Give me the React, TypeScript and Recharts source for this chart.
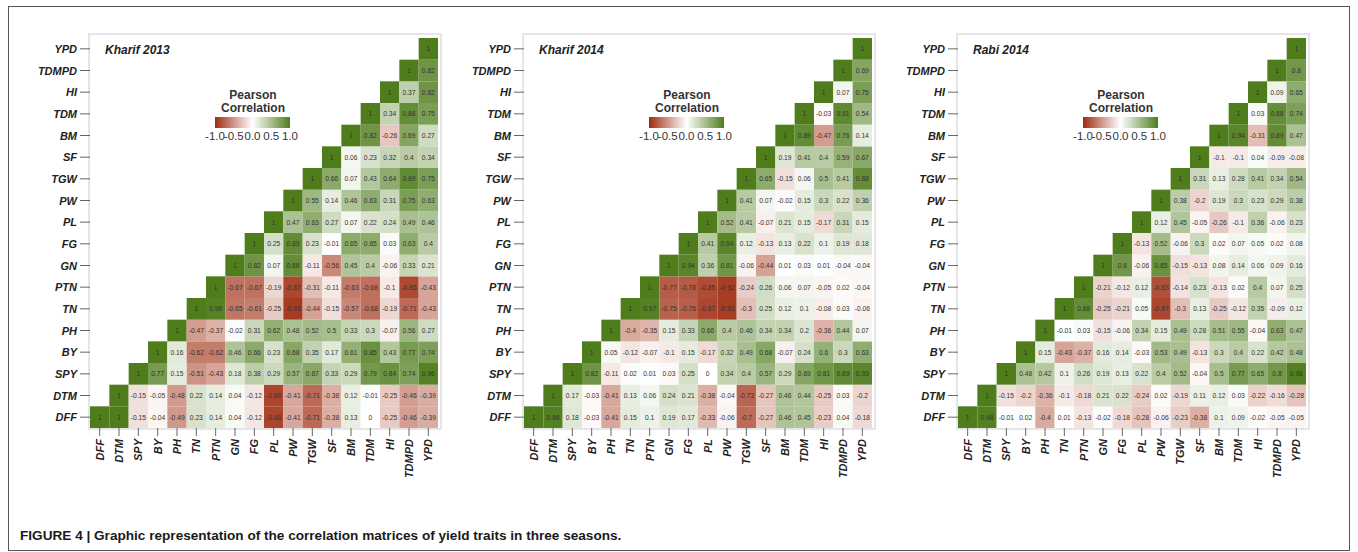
import React from 'react';
import { ScatterChart, Scatter, XAxis, YAxis } from 'recharts';

const traits = ['DFF', 'DTM', 'SPY', 'BY', 'PH', 'TN', 'PTN', 'GN', 'FG', 'PL', 'PW', 'TGW', 'SF', 'BM', 'TDM', 'HI', 'TDMPD', 'YPD'];
const panelTitles = ['Kharif 2013', 'Kharif 2014', 'Rabi 2014'];
const legendTicks = [-1.0, -0.5, 0.0, 0.5, 1.0];

// each row starts at its diagonal cell; row 0 is DFF (bottom), row 17 is YPD (top)
const kharif2013 = [
  [1, 1, -0.15, -0.04, -0.49, 0.23, 0.14, 0.04, -0.12, -0.88, -0.41, -0.71, -0.38, 0.13, 0, -0.25, -0.46, -0.39],
  [1, -0.15, -0.05, -0.48, 0.22, 0.14, 0.04, -0.12, -0.88, -0.41, -0.71, -0.38, 0.12, -0.01, -0.25, -0.46, -0.39],
  [1, 0.77, 0.15, -0.51, -0.43, 0.18, 0.38, 0.29, 0.57, 0.67, 0.33, 0.29, 0.79, 0.84, 0.74, 0.96],
  [1, 0.16, -0.62, -0.62, 0.46, 0.66, 0.23, 0.68, 0.35, 0.17, 0.61, 0.85, 0.43, 0.77, 0.74],
  [1, -0.47, -0.37, -0.02, 0.31, 0.62, 0.48, 0.52, 0.5, 0.33, 0.3, -0.07, 0.56, 0.27],
  [1, 0.96, -0.65, -0.61, -0.25, -0.93, -0.44, -0.15, -0.57, -0.68, -0.19, -0.71, -0.43],
  [1, -0.67, -0.67, -0.19, -0.87, -0.31, -0.11, -0.63, -0.68, -0.1, -0.86, -0.43],
  [1, 0.82, 0.07, 0.88, -0.11, -0.56, 0.45, 0.4, -0.06, 0.33, 0.21],
  [1, 0.25, 0.89, 0.23, -0.01, 0.65, 0.65, 0.03, 0.63, 0.4],
  [1, 0.47, 0.63, 0.27, 0.07, 0.22, 0.24, 0.49, 0.46],
  [1, 0.55, 0.14, 0.46, 0.63, 0.31, 0.75, 0.63],
  [1, 0.66, 0.07, 0.43, 0.64, 0.89, 0.75],
  [1, 0.06, 0.23, 0.32, 0.4, 0.34],
  [1, 0.82, -0.26, 0.69, 0.27],
  [1, 0.34, 0.88, 0.75],
  [1, 0.37, 0.82],
  [1, 0.82],
  [1],
];

const kharif2014 = [
  [1, 0.98, 0.18, -0.03, -0.41, 0.15, 0.1, 0.19, 0.17, -0.33, -0.06, -0.7, -0.27, 0.46, 0.45, -0.23, 0.04, -0.18],
  [1, 0.17, -0.03, -0.41, 0.13, 0.06, 0.24, 0.21, -0.38, -0.04, -0.73, -0.27, 0.46, 0.44, -0.25, 0.03, -0.2],
  [1, 0.82, -0.11, 0.02, 0.01, 0.03, 0.25, 0, 0.34, 0.4, 0.57, 0.29, 0.69, 0.81, 0.89, 0.93],
  [1, 0.05, -0.12, -0.07, -0.1, 0.15, -0.17, 0.32, 0.49, 0.68, -0.07, 0.24, 0.6, 0.3, 0.63],
  [1, -0.4, -0.35, 0.15, 0.33, 0.66, 0.4, 0.46, 0.34, 0.34, 0.2, -0.36, 0.44, 0.07],
  [1, 0.97, -0.75, -0.76, -0.87, -0.92, -0.3, 0.25, 0.12, 0.1, -0.08, 0.03, -0.06],
  [1, -0.77, -0.78, -0.85, -0.92, -0.24, 0.26, 0.06, 0.07, -0.05, 0.02, -0.04],
  [1, 0.94, 0.36, 0.81, -0.06, -0.44, 0.01, 0.03, 0.01, -0.04, -0.04],
  [1, 0.41, 0.94, 0.12, -0.13, 0.13, 0.22, 0.1, 0.19, 0.18],
  [1, 0.52, 0.41, -0.07, 0.21, 0.15, -0.17, 0.31, 0.15],
  [1, 0.41, 0.07, -0.02, 0.15, 0.3, 0.22, 0.36],
  [1, 0.65, -0.15, 0.06, 0.5, 0.41, 0.88],
  [1, 0.19, 0.41, 0.4, 0.59, 0.67],
  [1, 0.89, -0.47, 0.76, 0.14],
  [1, -0.03, 0.91, 0.54],
  [1, 0.07, 0.75],
  [1, 0.69],
  [1],
];

const rabi2014 = [
  [1, 0.98, -0.01, 0.02, -0.4, 0.01, -0.13, -0.02, -0.18, -0.28, -0.06, -0.23, -0.38, 0.1, 0.09, -0.02, -0.05, -0.05],
  [1, -0.15, -0.2, -0.36, -0.1, -0.18, 0.21, 0.22, -0.24, 0.02, -0.19, 0.11, 0.12, 0.03, -0.22, -0.16, -0.28],
  [1, 0.48, 0.42, 0.1, 0.26, 0.19, 0.13, 0.22, 0.4, 0.52, -0.04, 0.5, 0.77, 0.65, 0.8, 0.98],
  [1, 0.15, -0.43, -0.37, 0.16, 0.14, -0.03, 0.53, 0.49, -0.13, 0.3, 0.4, 0.22, 0.42, 0.48],
  [1, -0.01, 0.03, -0.15, -0.06, 0.34, 0.15, 0.49, 0.28, 0.51, 0.55, -0.04, 0.63, 0.47],
  [1, 0.88, -0.25, -0.21, 0.05, -0.87, -0.3, 0.13, -0.25, -0.12, 0.35, -0.09, 0.12],
  [1, -0.21, -0.12, 0.12, -0.83, -0.14, 0.23, -0.13, 0.02, 0.4, 0.07, 0.25],
  [1, 0.8, -0.06, 0.85, -0.15, -0.13, 0.08, 0.14, 0.06, 0.09, 0.16],
  [1, -0.13, 0.52, -0.06, 0.3, 0.02, 0.07, 0.05, 0.02, 0.08],
  [1, 0.12, 0.45, -0.05, -0.26, -0.1, 0.36, -0.06, 0.23],
  [1, 0.38, -0.2, 0.19, 0.3, 0.23, 0.29, 0.38],
  [1, 0.31, 0.13, 0.28, 0.41, 0.34, 0.54],
  [1, -0.1, -0.1, 0.04, -0.09, -0.08],
  [1, 0.94, -0.31, 0.89, 0.47],
  [1, 0.03, 0.88, 0.74],
  [1, 0.09, 0.65],
  [1, 0.8],
  [1],
];

const matrices = [kharif2013, kharif2014, rabi2014];

const FONT = '"Liberation Sans", Arial, sans-serif';
const GREEN = [79, 125, 28];
const RED = [160, 44, 16];

const cellColor = (v: number) => {
  const t = Math.min(1, Math.abs(v));
  const c = v >= 0 ? GREEN : RED;
  const mix = (k: number) => Math.round(255 + (c[k] - 255) * t);
  return `rgb(${mix(0)},${mix(1)},${mix(2)})`;
};

const toCells = (rows: number[][]) =>
  rows.flatMap((row, r) => row.map((v, j) => ({ x: r + j, y: r, v })));

// chart geometry
const W = 450;
const H = 500;
const M = { top: 38, right: 12, bottom: 12, left: 10 };
const Y_W = 80;
const X_H = 60;
const PLOT_W = W - M.left - M.right - Y_W;
const PLOT_H = H - M.top - M.bottom - X_H;
const CW = PLOT_W / traits.length;
const CH = PLOT_H / traits.length;
const PANEL_STEP = 434;
const idx = traits.map((_, i) => i);

const Cell = (props: any) => {
  const { cx, cy, payload } = props;
  return (
    <g>
      <rect x={cx - CW / 2} y={cy - CH / 2} width={CW} height={CH} fill={cellColor(payload.v)} />
      <text x={cx} y={cy} dy={2.4} textAnchor="middle" fontSize={6.7} fill="#333" fontFamily={FONT}>
        {String(payload.v)}
      </text>
    </g>
  );
};

const YTick = (props: any) => {
  const { x, y, payload } = props;
  return (
    <text x={x} y={y} dy={4} textAnchor="end" fontSize={11} fontWeight="bold" fontStyle="italic" fill="#222" fontFamily={FONT}>
      {traits[payload.value]}
    </text>
  );
};

const XTick = (props: any) => {
  const { x, y, payload } = props;
  return (
    <g transform={`translate(${x},${y})`}>
      <text transform="rotate(-90)" dy={4} textAnchor="end" fontSize={11} fontWeight="bold" fontStyle="italic" fill="#222" fontFamily={FONT}>
        {traits[payload.value]}
      </text>
    </g>
  );
};

const Panel = ({ k }: { k: number }) => {
  const off = PANEL_STEP * k;
  const gradient = `linear-gradient(to right, ${legendTicks.map((t) => cellColor(t)).join(', ')})`;
  return (
    <>
      <div
        style={{
          position: 'absolute', left: 88 + off, top: 33, width: PLOT_W + 6, height: PLOT_H + 7,
          border: '2px solid #e6e6e6', boxSizing: 'border-box',
        }}
      />
      <div style={{ position: 'absolute', left: off, top: 0 }}>
        <ScatterChart width={W} height={H} margin={M}>
          <XAxis
            type="number" dataKey="x" domain={[-0.5, 17.5]} ticks={idx} interval={0}
            height={X_H} tick={<XTick />} tickSize={8} tickMargin={3}
            axisLine={false} tickLine={{ stroke: '#666' }}
          />
          <YAxis
            type="number" dataKey="y" domain={[-0.5, 17.5]} ticks={idx} interval={0}
            width={Y_W} tick={<YTick />} tickSize={10} tickMargin={3}
            axisLine={false} tickLine={{ stroke: '#666' }}
          />
          <Scatter data={toCells(matrices[k])} shape={<Cell />} isAnimationActive={false} />
        </ScatterChart>
      </div>
      <div
        style={{
          position: 'absolute', left: 105 + off, top: 43, fontFamily: FONT, fontSize: 12,
          fontWeight: 'bold', fontStyle: 'italic', color: '#222',
        }}
      >
        {panelTitles[k]}
      </div>
      <div
        style={{
          position: 'absolute', left: 198 + off, top: 89, width: 110, textAlign: 'center',
          fontFamily: FONT, fontSize: 12, lineHeight: '13px', fontWeight: 'bold', color: '#333',
        }}
      >
        Pearson
        <br />
        Correlation
      </div>
      <div style={{ position: 'absolute', left: 215 + off, top: 117, width: 75, height: 11, background: gradient }} />
      {legendTicks.map((t, i) => (
        <div
          key={i}
          style={{
            position: 'absolute', left: 215 + off + (75 * i) / 4 - 12, top: 130, width: 24, textAlign: 'center',
            fontFamily: FONT, fontSize: 11.5, color: '#333',
          }}
        >
          {t.toFixed(1)}
        </div>
      ))}
    </>
  );
};

export default function App() {
  return (
    <div style={{ position: 'absolute', left: 0, top: 0, width: 1358, height: 552, background: '#fff', overflow: 'hidden' }}>
      <div style={{ position: 'absolute', left: 8, top: 6, width: 1342, height: 545, border: '1px solid #555', boxSizing: 'border-box' }} />
      {[0, 1, 2].map((k) => (
        <Panel key={k} k={k} />
      ))}
      <div
        style={{
          position: 'absolute', left: 20, top: 528, fontFamily: FONT, fontSize: 13.6,
          fontWeight: 'bold', color: '#1a1a1a', whiteSpace: 'nowrap',
        }}
      >
        FIGURE 4 | Graphic representation of the correlation matrices of yield traits in three seasons.
      </div>
    </div>
  );
}
